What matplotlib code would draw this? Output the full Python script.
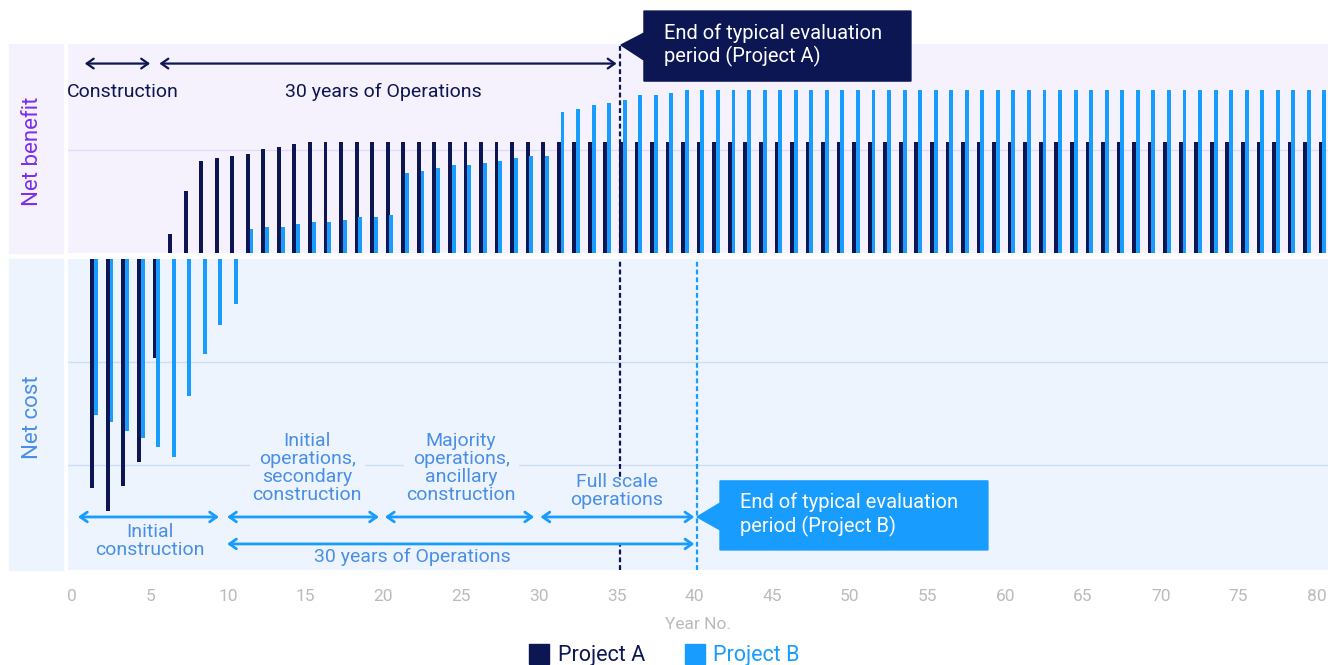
import numpy as np
import matplotlib
matplotlib.use("Agg")
import matplotlib.pyplot as plt
from matplotlib.patches import Polygon, Rectangle
from matplotlib.lines import Line2D

plt.rcParams['font.family'] = ['Roboto', 'DejaVu Sans']

# datos (anio 1..80)
years = np.arange(1, 81)
project_a = [-222, -245, -220, -197, -96, 18, 60, 89, 92, 94,
             96, 101, 103, 106, 108, 108, 108, 108, 108, 108,
             108, 108, 108, 108, 108, 108, 108, 108, 108, 108,
             108, 108, 108, 108, 108, 108, 108, 108, 108, 108,
             108, 108, 108, 108, 108, 108, 108, 108, 108, 108,
             108, 108, 108, 108, 108, 108, 108, 108, 108, 108,
             108, 108, 108, 108, 108, 108, 108, 108, 108, 108,
             108, 108, 108, 108, 108, 108, 108, 108, 108, 108]
project_b = [-151, -158, -167, -174, -183, -192, -133, -92, -64, -44,
             23, 25, 25, 28, 30, 30, 32, 35, 35, 37,
             78, 80, 83, 85, 85, 87, 89, 92, 94, 94,
             137, 140, 144, 146, 149, 153, 153, 155, 158, 158,
             158, 158, 158, 158, 158, 158, 158, 158, 158, 158,
             158, 158, 158, 158, 158, 158, 158, 158, 158, 158,
             158, 158, 158, 158, 158, 158, 158, 158, 158, 158,
             158, 158, 158, 158, 158, 158, 158, 158, 158, 158]
xticks = list(range(0, 81, 5))
end_a, end_b = 35.2, 40.2

navy = '#0B1653'
blue = '#189CFD'
top_bg = '#F6F2FD'
bot_bg = '#EEF4FD'
purple = '#7B2EF0'
txt_blue = '#4A8FE6'
gray = '#BBBBBB'

W, H = 1336, 665
fig = plt.figure(figsize=(W / 100, H / 100), dpi=100)

def box(x0, y0, x1, y1):
    # pixeles (arriba-izquierda) -> fraccion de figura
    return [x0 / W, 1 - y1 / H, (x1 - x0) / W, (y1 - y0) / H]

ax_top = fig.add_axes(box(68, 44, 1328, 253))
ax_bot = fig.add_axes(box(68, 259, 1328, 570), sharex=ax_top)

# franjas de etiqueta a la izquierda
fig.patches.append(Rectangle((9 / W, 1 - 253 / H), 54 / W, 209 / H,
                             transform=fig.transFigure, color=top_bg, zorder=0))
fig.patches.append(Rectangle((9 / W, 1 - 570 / H), 54 / W, 311 / H,
                             transform=fig.transFigure, color=bot_bg, zorder=0))
fig.text(33 / W, 1 - 151 / H, "Net benefit", rotation=90, color=purple,
         fontsize=16, ha='center', va='center')
fig.text(33 / W, 1 - 417 / H, "Net cost", rotation=90, color=txt_blue,
         fontsize=16, ha='center', va='center')

for ax, bg, lims, grid, gcol in [(ax_top, top_bg, (0, 203), [100], '#E3D9FA'),
                                  (ax_bot, bot_bg, (-302, 0), [-100, -200], '#CCDDF7')]:
    ax.set_facecolor(bg)
    ax.bar(years + 0.28, project_a, width=0.25, color=navy, zorder=3)
    ax.bar(years + 0.52, project_b, width=0.25, color=blue, zorder=3)
    ax.set_ylim(*lims)
    ax.set_xlim(-0.28, 80.75)
    for g in grid:
        ax.axhline(g, color=gcol, lw=1, zorder=1)
    for s in ax.spines.values():
        s.set_visible(False)
    ax.set_yticks([])

ax_top.tick_params(axis='x', bottom=False, labelbottom=False)
ax_bot.set_xticks(xticks)
ax_bot.tick_params(axis='x', length=0, pad=14, labelsize=12.5, labelcolor=gray)
ax_bot.set_xlabel("Year No.", color=gray, fontsize=12.5, labelpad=9)

# lineas de fin de evaluacion
ax_top.axvline(end_a, color=navy, lw=1.6, ls=(0, (2.2, 1.3)), ymax=0.99, zorder=2)
ax_bot.axvline(end_a, color=navy, lw=1.6, ls=(0, (2.2, 1.3)), zorder=2)
ax_bot.axvline(end_b, color=blue, lw=1.6, ls=(0, (2.2, 1.3)), zorder=2)

# flechas
def arrow(ax, x0, x1, y, col, lw):
    ax.annotate("", xy=(x0, y), xytext=(x1, y), annotation_clip=False,
                arrowprops=dict(arrowstyle="<->,head_length=0.5,head_width=0.35",
                                color=col, lw=lw, shrinkA=0, shrinkB=0), zorder=6)

arrow(ax_top, 0.8, 5.0, 184, navy, 1.6)
arrow(ax_top, 5.6, 35.0, 184, navy, 1.6)
ax_top.text(3.25, 156, "Construction", color=navy, fontsize=14, ha='center', va='center')
ax_top.text(20.0, 156, "30 years of Operations", color=navy, fontsize=14,
            ha='center', va='center')

arrow(ax_bot, 0.36, 9.43, -250.5, blue, 2)
arrow(ax_bot, 9.95, 19.72, -250.5, blue, 2)
arrow(ax_bot, 20.1, 29.7, -250.5, blue, 2)
arrow(ax_bot, 30.1, 40.0, -250.5, blue, 2)
arrow(ax_bot, 9.95, 40.0, -276.7, blue, 2)

# fondo que tapa la linea punteada detras de "Full scale operations"
ax_bot.add_patch(Rectangle((34.2, -275), 2.0, 61, color=bot_bg, zorder=4))

bb = dict(facecolor=bot_bg, edgecolor='none', pad=2)
ax_bot.text(5.0, -274, "Initial\nconstruction", color=txt_blue, fontsize=14,
            ha='center', va='center', linespacing=1.0, zorder=5)
ax_bot.text(15.1, -203, "Initial\noperations,\nsecondary\nconstruction", color=txt_blue,
            fontsize=14, ha='center', va='center', linespacing=0.98, bbox=bb, zorder=5)
ax_bot.text(25.0, -203, "Majority\noperations,\nancillary\nconstruction", color=txt_blue,
            fontsize=14, ha='center', va='center', linespacing=0.98, bbox=bb, zorder=5)
ax_bot.text(35.0, -225.7, "Full scale\noperations", color=txt_blue,
            fontsize=14, ha='center', va='center', linespacing=1.0, zorder=5)
ax_bot.text(21.85, -289, "30 years of Operations", color=txt_blue, fontsize=14,
            ha='center', va='center', zorder=5)

# cuadros de llamada
call_a = [(36.76, 235), (53.93, 235), (53.93, 167), (36.76, 167),
          (36.76, 187.4), (35.28, 202), (36.76, 213.6)]
ax_top.add_patch(Polygon(call_a, closed=True, color=navy, clip_on=False, zorder=7))
ax_top.text(38.07, 201.5, "End of typical evaluation\nperiod (Project A)", color='white',
            fontsize=14.5, ha='left', va='center', linespacing=1.2, zorder=8, clip_on=False)

call_b = [(41.65, -215.5), (58.88, -215.5), (58.88, -282.5), (41.65, -282.5),
          (41.65, -263), (40.17, -250.5), (41.65, -237)]
ax_bot.add_patch(Polygon(call_b, closed=True, color=blue, clip_on=False, zorder=7))
ax_bot.text(42.93, -248.5, "End of typical evaluation\nperiod (Project B)", color='white',
            fontsize=14.5, ha='left', va='center', linespacing=1.2, zorder=8)

# leyenda
handles = [Line2D([], [], marker='s', ls='none', color=navy, markersize=15),
           Line2D([], [], marker='s', ls='none', color=blue, markersize=15)]
fig.legend(handles, ["Project A", "Project B"], loc='center',
           bbox_to_anchor=(0.497, 1 - 656 / H), ncol=2, frameon=False, fontsize=15.5,
           labelcolor=[navy, blue], handletextpad=0.35, columnspacing=1.8,
           handlelength=1.0)

fig.savefig("out.png", dpi=100)
